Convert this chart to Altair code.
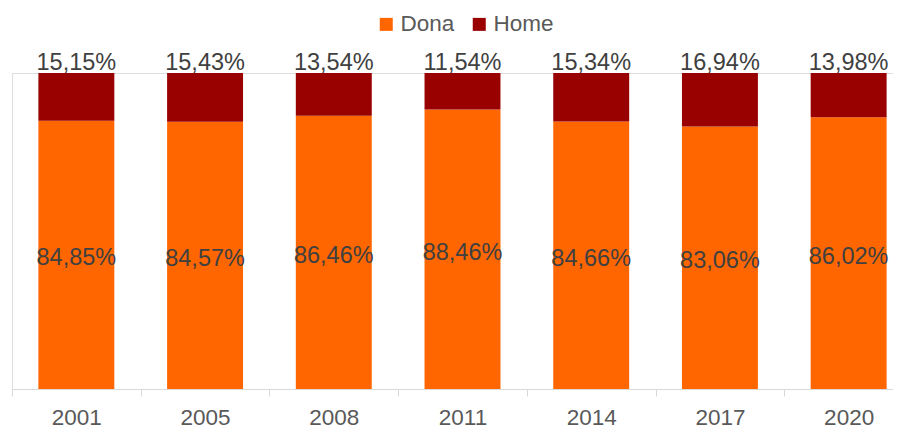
import altair as alt
import pandas as pd

years = ["2001", "2005", "2008", "2011", "2014", "2017", "2020"]
dona = [84.85, 84.57, 86.46, 88.46, 84.66, 83.06, 86.02]
home = [15.15, 15.43, 13.54, 11.54, 15.34, 16.94, 13.98]
series = ["Dona", "Home"]
colors = ["#FF6600", "#990000"]


def fmt(v):
    return f"{v:.2f}".replace(".", ",") + "%"


rows = []
for y, d, h in zip(years, dona, home):
    rows.append({"year": y, "sex": "Dona", "value": d, "ord": 0})
    rows.append({"year": y, "sex": "Home", "value": h, "ord": 1})
df = pd.DataFrame(rows)

lab = pd.DataFrame({
    "year": years,
    "dona_mid": [d / 2 for d in dona],
    "top": [d + h for d, h in zip(dona, home)],
    "dona_lab": [fmt(d) for d in dona],
    "home_lab": [fmt(h) for h in home],
})

FONT = "Liberation Sans"
xscale = alt.Scale(paddingInner=0, paddingOuter=0, range=[0, 901])
yscale = alt.Scale(domain=[0, 100], nice=False)

xaxis = alt.Axis(
    labelAngle=0,
    labelFont=FONT,
    labelFontSize=22.5,
    labelColor="#595959",
    labelPadding=10,
    domainColor="#D9D9D9",
    tickColor="#D9D9D9",
    tickSize=7,
    tickBand="extent",
    grid=False,
    title=None,
)

bars = alt.Chart(df).mark_bar(width=alt.RelativeBandSize(0.59)).encode(
    x=alt.X("year:N", sort=years, title=None, scale=xscale, axis=xaxis),
    y=alt.Y("value:Q", stack="zero", scale=yscale, axis=None),
    color=alt.Color(
        "sex:N",
        scale=alt.Scale(domain=series, range=colors),
        legend=alt.Legend(
            title=None,
            orient="none",
            legendX=363,
            legendY=-60,
            direction="horizontal",
            symbolType="square",
            symbolSize=169,
            symbolStrokeWidth=0,
            labelFont=FONT,
            labelFontSize=22.5,
            labelColor="#595959",
            labelOffset=3,
            columnPadding=13,
            padding=0,
        ),
    ),
    order=alt.Order("ord:Q"),
)

dona_text = alt.Chart(lab).mark_text(
    font=FONT, fontSize=23.5, color="#404040", baseline="alphabetic", dy=10.5
).encode(
    x=alt.X("year:N", sort=years, title=None, scale=xscale, axis=xaxis),
    y=alt.Y("dona_mid:Q", scale=yscale, axis=None),
    text="dona_lab:N",
)

home_text = alt.Chart(lab).mark_text(
    font=FONT, fontSize=23.5, color="#404040", baseline="alphabetic", dy=-3
).encode(
    x=alt.X("year:N", sort=years, title=None, scale=xscale, axis=xaxis),
    y=alt.Y("top:Q", scale=yscale, axis=None),
    text="home_lab:N",
)

chart = (
    alt.layer(bars, dona_text, home_text)
    .properties(
        width=881,
        height=316,
        autosize=alt.AutoSizeParams(type="none"),
        padding={"left": 4, "top": 65, "right": 0, "bottom": 38},
    )
    .configure_view(strokeWidth=0, stroke="transparent", fill="white")
    .configure_axis(grid=False, gridOpacity=0)
    .configure(background="white")
)

chart.save("out.html", embed_options={"renderer": "svg", "actions": False})
